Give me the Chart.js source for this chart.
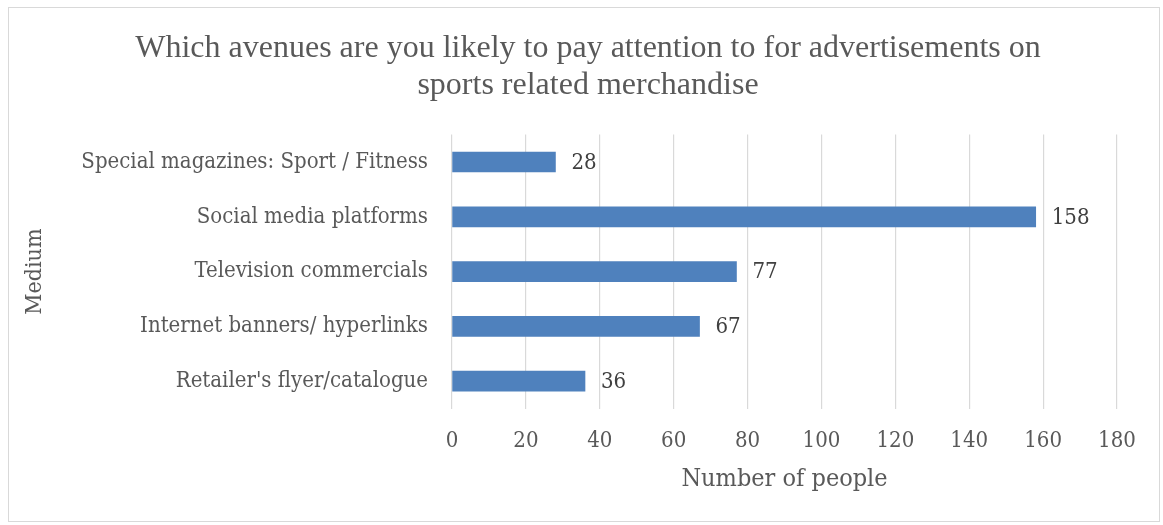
<!DOCTYPE html>
<html>
<head>
<meta charset="utf-8">
<script src="https://cdn.jsdelivr.net/npm/chart.js@4"></script>
<style>
  body { margin: 0; background: #fff; }
  #box {
    position: absolute; left: 8px; top: 7px;
    width: 1150px; height: 513px;
    border: 1px solid #d9d9d9;
  }
</style>
</head>
<body>
<div id="box"><canvas id="mediumChart"></canvas></div>
<script>
// survey answers: number of people per advertising medium
const mediums = [
    'Special magazines: Sport / Fitness',
    'Social media platforms',
    'Television commercials',
    'Internet banners/ hyperlinks',
    "Retailer's flyer/catalogue"
];
const people = [28, 158, 77, 67, 36];
const xTicks = [0, 20, 40, 60, 80, 100, 120, 140, 160, 180];

const titleFont = "'Liberation Serif', 'Times New Roman', serif";
const bodyFont = "'DejaVu Serif Condensed', 'DejaVu Serif', serif";
const textColor = '#595959';

// writes the value just past the end of every bar
const barValues = {
    id: 'barValues',
    afterDatasetsDraw(chart) {
        const c = chart.ctx;
        const meta = chart.getDatasetMeta(0);
        c.save();
        c.font = '22px ' + bodyFont;
        c.fillStyle = '#404040';
        c.textAlign = 'left';
        c.textBaseline = 'middle';
        meta.data.forEach(function(bar, i) {
            c.fillText(String(people[i]), bar.x + 16, bar.y + 1);
        });
        c.restore();
    }
};

const ctx = document.getElementById('mediumChart').getContext('2d');
let mediumChart = new Chart(ctx, {
    type: 'bar',
    data: {
        labels: mediums,
        datasets: [{
            data: people,
            backgroundColor: '#4f81bd',
            borderWidth: 0,
            barThickness: 20
        }]
    },
    plugins: [barValues],
    options: {
        indexAxis: 'y',
        responsive: true,
        maintainAspectRatio: false,
        animation: false,
        layout: { padding: { left: 50, right: 42, top: 0, bottom: 27 } },
        plugins: {
            legend: { display: false },
            tooltip: { enabled: false },
            title: {
                display: true,
                text: ['Which avenues are you likely to pay attention to for advertisements on',
                       'sports related merchandise'],
                color: textColor,
                font: { family: titleFont, size: 32, weight: 'normal', lineHeight: 1.15 },
                padding: { top: 22, bottom: 31 }
            }
        },
        scales: {
            x: {
                min: 0,
                max: 180,
                afterBuildTicks: function(scale) {
                    scale.ticks = xTicks.map(v => ({ value: v }));
                },
                grid: { color: '#d9d9d9', lineWidth: 1.2, drawTicks: false },
                border: { display: false },
                ticks: {
                    color: textColor,
                    padding: 19,
                    font: { family: bodyFont, size: 22 }
                },
                title: {
                    display: true,
                    text: 'Number of people',
                    color: textColor,
                    font: { family: bodyFont, size: 25 },
                    padding: { top: -9, bottom: 0 }
                }
            },
            y: {
                grid: { display: false },
                border: { display: false },
                afterFit: function(scale) { scale.width = 393; },
                ticks: {
                    color: textColor,
                    padding: 16,
                    font: { family: bodyFont, size: 22 }
                },
                title: {
                    display: true,
                    text: 'Medium',
                    color: textColor,
                    font: { family: bodyFont, size: 23 },
                    padding: { top: -38, bottom: 0 }
                }
            }
        }
    }
});
</script>
</body>
</html>
